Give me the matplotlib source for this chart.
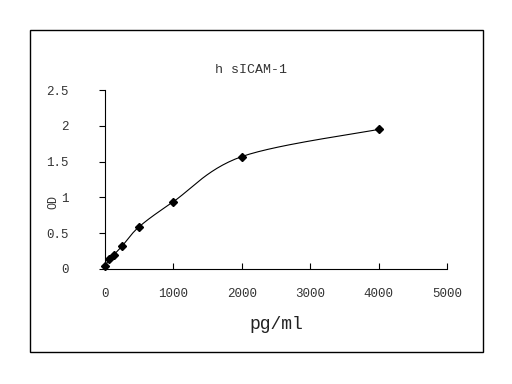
import numpy as np
import matplotlib.pyplot as plt
from matplotlib.patches import Rectangle

conc = [0, 62.5, 125, 250, 500, 1000, 2000, 4000]
od = [0.035, 0.14, 0.195, 0.32, 0.59, 0.94, 1.57, 1.95]
xticks = [0, 1000, 2000, 3000, 4000, 5000]
yticks = [0, 0.5, 1, 1.5, 2, 2.5]
ytick_labels = ['0', '0.5', '1', '1.5', '2', '2.5']


def smooth(x, y, xr, yr, n=30):
    # catmull-rom like the spreadsheet smoothed line, done in scaled space
    p = np.column_stack([np.asarray(x) / xr, np.asarray(y) / yr])
    out = [p[0]]
    for i in range(len(p) - 1):
        p0 = p[i - 1] if i > 0 else p[i]
        p1, p2 = p[i], p[i + 1]
        p3 = p[i + 2] if i + 2 < len(p) else p[i + 1]
        c1 = p1 + (p2 - p0) / 6
        c2 = p2 - (p3 - p1) / 6
        t = np.linspace(0, 1, n)[1:, None]
        seg = (1 - t) ** 3 * p1 + 3 * (1 - t) ** 2 * t * c1 + 3 * (1 - t) * t ** 2 * c2 + t ** 3 * p2
        out.extend(seg)
    out = np.array(out)
    return out[:, 0] * xr, out[:, 1] * yr


fig = plt.figure(figsize=(5.12, 3.84), dpi=100)
fig.patches.append(Rectangle((0.0586, 0.0833), 0.885, 0.8385, transform=fig.transFigure,
                             fill=False, edgecolor='black', linewidth=1))
ax = fig.add_axes([0.205, 0.2995, 0.668, 0.4661])

sx, sy = smooth(conc, od, 5000, 2.5)
ax.plot(sx, sy, color='black', linewidth=0.8)
ax.plot(conc, od, linestyle='none', marker='D', markersize=4, color='black', clip_on=False)

ax.set_xlim(0, 5000)
ax.set_ylim(0, 2.5)
ax.set_xticks(xticks)
ax.set_yticks(yticks)
ax.set_yticklabels(ytick_labels)
ax.spines['top'].set_visible(False)
ax.spines['right'].set_visible(False)
ax.tick_params(axis='x', direction='in', length=4, pad=14, labelsize=9)
ax.tick_params(axis='y', direction='out', length=4, pad=22, labelsize=9)
for lab in ax.get_xticklabels() + ax.get_yticklabels():
    lab.set_family('Liberation Mono')
    lab.set_color('#333333')

fig.text(0.49, 0.818, 'h sICAM-1', ha='center', va='center', fontsize=9.5,
         family='Liberation Mono', color='#333333')
fig.text(0.105, 0.474, 'OD', ha='center', va='center', rotation=90, fontsize=8.5,
         family='Liberation Mono', color='#333333')
fig.text(0.539, 0.154, 'pg/ml', ha='center', va='center', fontsize=13,
         family='Liberation Mono', color='#222222')

fig.savefig('out.png', dpi=100)
